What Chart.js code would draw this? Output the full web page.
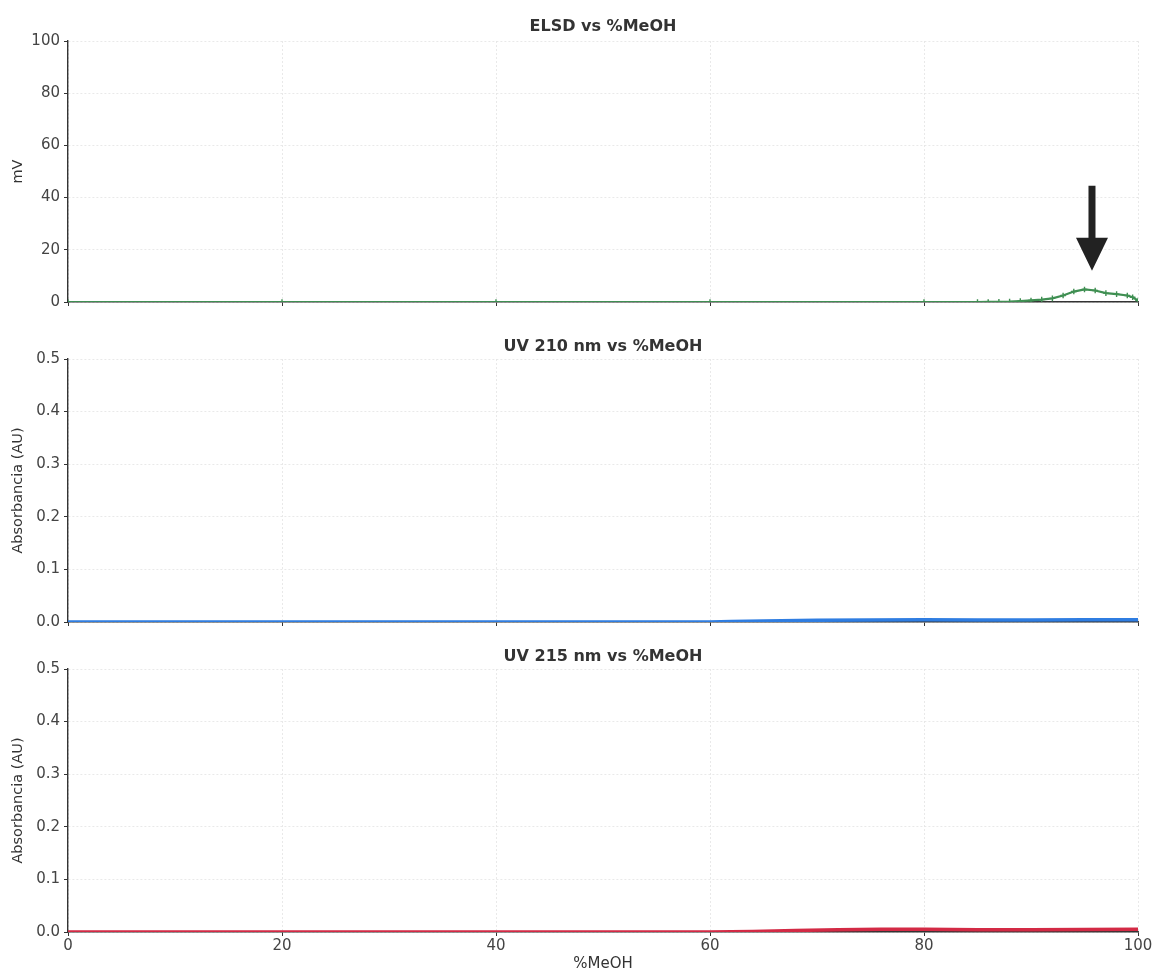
<!DOCTYPE html>
<html>
<head>
<meta charset="utf-8">
<script src="https://cdn.jsdelivr.net/npm/chart.js@4.4.1/dist/chart.umd.min.js"></script>
<style>
  html, body { margin: 0; padding: 0; background: #fff; }
  .panel { position: absolute; left: 0; width: 1157px; }
</style>
</head>
<body>
<div class="panel" style="top:0;height:312px"><canvas id="elsd"></canvas></div>
<div class="panel" style="top:312px;height:320px"><canvas id="uv210"></canvas></div>
<div class="panel" style="top:632px;height:341px"><canvas id="uv215"></canvas></div>
<script>
'use strict'

// %MeOH positions and signals
const elsdX = [0, 20, 40, 60, 80, 85, 86, 87, 88, 89, 90, 91, 92, 93, 94, 95, 96, 97, 98, 99, 99.5, 100];
const elsdY = [0, 0, 0, 0, 0, 0, 0.02, 0.05, 0.15, 0.35, 0.6, 0.9, 1.4, 2.5, 4.0, 4.8, 4.4, 3.4, 3.0, 2.5, 1.8, 0.6];

const uv210X = [0, 20, 40, 60, 62, 65, 70, 75, 80, 85, 90, 95, 100];
const uv210Y = [0, 0, 0, 0, 0.0008, 0.002, 0.0035, 0.004, 0.0045, 0.004, 0.0038, 0.0042, 0.0045];

const uv215X = [0, 20, 40, 60, 64, 68, 72, 76, 80, 85, 90, 95, 100];
const uv215Y = [0, 0, 0, 0, 0.0008, 0.0028, 0.0045, 0.005, 0.005, 0.0045, 0.0042, 0.0048, 0.005];

const xTicks = [0, 20, 40, 60, 80, 100];
const elsdTicks = [0, 20, 40, 60, 80, 100];
const uvTicks = [0, 0.1, 0.2, 0.3, 0.4, 0.5];

// arrow pointing at the ELSD peak (data units)
const arrowX = 95.7;
const arrowFrom = 44.5;
const arrowTo = 12;

const FONT = "'DejaVu Sans', sans-serif";
Chart.defaults.font.family = FONT;
Chart.defaults.color = '#333';
Chart.defaults.animation = false;

function toPoints(xs, ys) {
  return xs.map((x, i) => ({ x: x, y: ys[i] }));
}

// arrow drawn through the chart's own scales
const arrowPlugin = {
  id: 'arrow',
  afterDatasetsDraw(chart) {
    if (chart.canvas.id !== 'elsd') return;
    const ctx = chart.ctx;
    const xs = chart.scales.x, ys = chart.scales.y;
    const px = xs.getPixelForValue(arrowX);
    const y0 = ys.getPixelForValue(arrowFrom);
    const y1 = ys.getPixelForValue(arrowTo);
    const headH = 33, headW = 16, shaft = 3.5;
    ctx.save();
    ctx.fillStyle = '#222';
    ctx.beginPath();
    ctx.moveTo(px - shaft, y0);
    ctx.lineTo(px + shaft, y0);
    ctx.lineTo(px + shaft, y1 - headH);
    ctx.lineTo(px + headW, y1 - headH);
    ctx.lineTo(px, y1);
    ctx.lineTo(px - headW, y1 - headH);
    ctx.lineTo(px - shaft, y1 - headH);
    ctx.closePath();
    ctx.fill();
    ctx.restore();
  }
};

function makeChart(id, opts) {
  const ctx = document.getElementById(id).getContext('2d');
  return new Chart(ctx, {
    type: 'line',
    data: {
      datasets: [{
        data: toPoints(opts.xs, opts.ys),
        borderColor: opts.color,
        backgroundColor: opts.color,
        borderWidth: opts.lineWidth,
        pointStyle: 'cross',
        pointRadius: opts.pointRadius,
        pointBorderWidth: 1.4,
        tension: 0,
      }],
    },
    options: {
      responsive: true,
      maintainAspectRatio: false,
      layout: { padding: { left: 0, right: 19, top: 0, bottom: 0 } },
      plugins: {
        legend: { display: false },
        tooltip: { enabled: false },
        title: {
          display: true,
          fullSize: false, // center over the plot area
          text: opts.title,
          color: '#333',
          font: { size: 16, weight: 'bold', family: FONT },
          padding: { top: opts.titleTop, bottom: opts.titleBottom },
        },
      },
      scales: {
        x: {
          type: 'linear',
          min: 0,
          max: 100,
          afterBuildTicks: axis => { axis.ticks = xTicks.map(v => ({ value: v })); },
          afterFit: axis => {
            axis.height = opts.xHeight;
            axis.paddingLeft = 0;
            axis.paddingRight = 0;
          },
          ticks: {
            display: opts.showX,
            color: '#444',
            font: { size: 15 },
            padding: 1,
            maxRotation: 0,
          },
          title: {
            display: opts.showX,
            text: '%MeOH',
            color: '#333',
            font: { size: 15 },
            padding: { top: 0, bottom: 0 },
          },
          grid: {
            color: '#e4e4e4',
            lineWidth: 0.8,
            tickColor: '#333',
            tickLength: 4,
            tickWidth: 1,
          },
          border: { display: true, color: '#333', width: 1.4, dash: [2, 2] },
        },
        y: {
          type: 'linear',
          min: opts.ymin,
          max: opts.ymax,
          afterBuildTicks: axis => { axis.ticks = opts.yTicks.map(v => ({ value: v })); },
          afterFit: axis => {
            axis.width = 68;
            axis.paddingTop = 0;
            axis.paddingBottom = 0;
          },
          ticks: {
            color: '#444',
            font: { size: 15 },
            padding: 4,
            callback: v => opts.fmt(v),
          },
          title: {
            display: true,
            text: opts.yTitle,
            color: '#333',
            font: { size: 14.5 },
            padding: { top: 10, bottom: 0 },
          },
          grid: {
            color: '#e4e4e4',
            lineWidth: 0.8,
            tickColor: '#333',
            tickLength: 4,
            tickWidth: 1,
          },
          border: { display: true, color: '#333', width: 1.4, dash: [2, 2] },
        },
      },
    },
    plugins: [arrowPlugin],
  });
}

makeChart('elsd', {
  xs: elsdX, ys: elsdY, color: '#3f8f52', lineWidth: 2.2, pointRadius: 2.8,
  title: 'ELSD vs %MeOH', titleTop: 17.4, titleBottom: 4.4,
  yTitle: 'mV', ymin: 0, ymax: 100, yTicks: elsdTicks, fmt: v => String(v),
  showX: false, xHeight: 10,
});

makeChart('uv210', {
  xs: uv210X, ys: uv210Y, color: '#2f7de1', lineWidth: 3.5, pointRadius: 0,
  title: 'UV 210 nm vs %MeOH', titleTop: 25.4, titleBottom: 2.4,
  yTitle: 'Absorbancia (AU)', ymin: 0, ymax: 0.5, yTicks: uvTicks, fmt: v => v.toFixed(1),
  showX: false, xHeight: 10,
});

makeChart('uv215', {
  xs: uv215X, ys: uv215Y, color: '#d32a45', lineWidth: 3.5, pointRadius: 0,
  title: 'UV 215 nm vs %MeOH', titleTop: 15.4, titleBottom: 2.4,
  yTitle: 'Absorbancia (AU)', ymin: 0, ymax: 0.5, yTicks: uvTicks, fmt: v => v.toFixed(1),
  showX: true, xHeight: 41,
});
</script>
</body>
</html>
